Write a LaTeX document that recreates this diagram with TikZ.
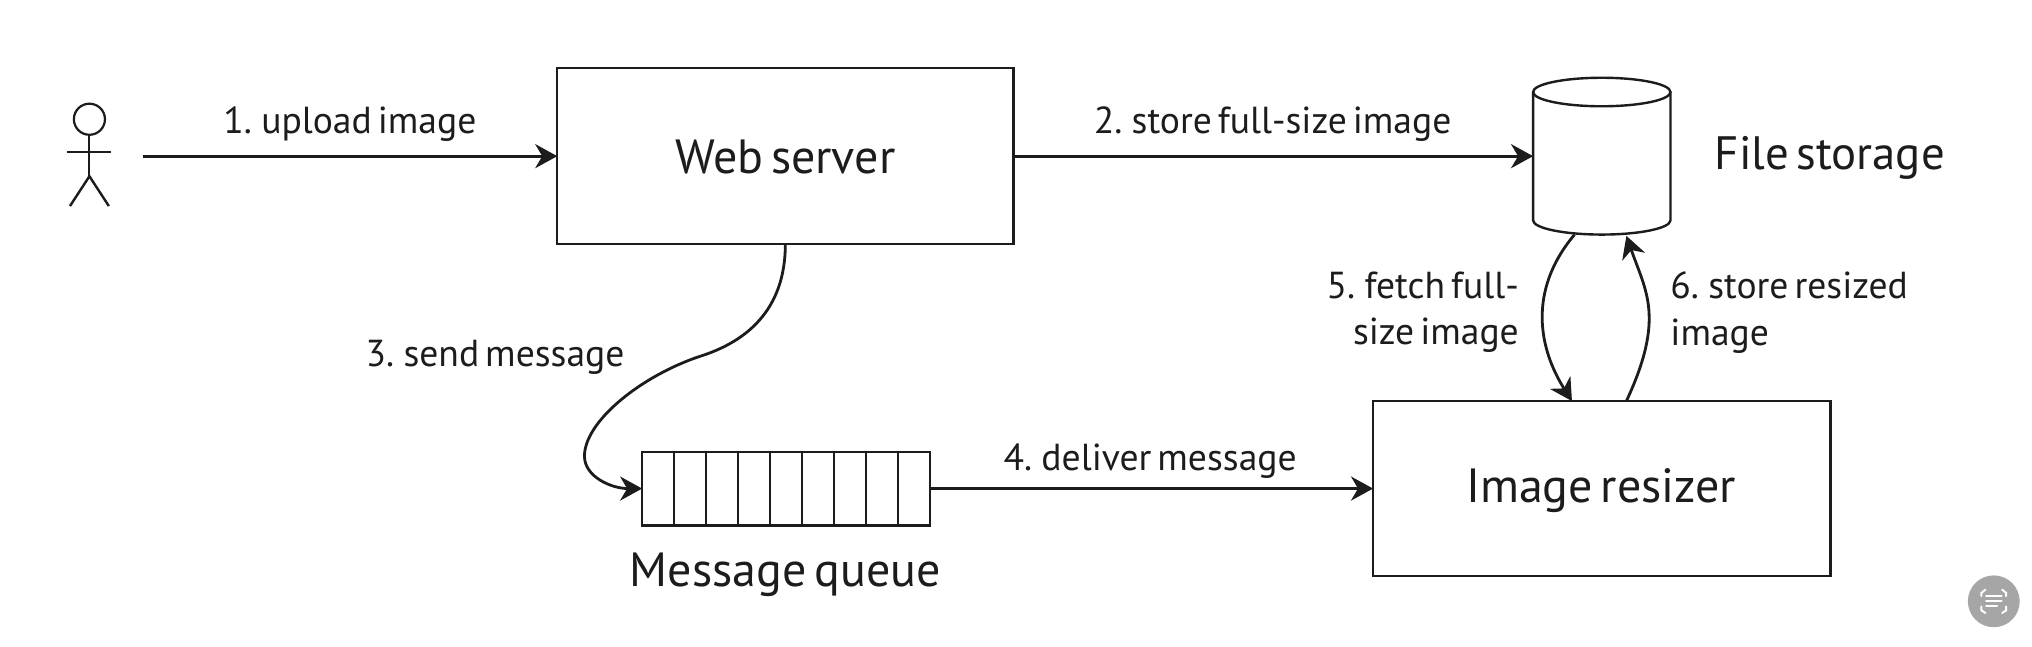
\documentclass[tikz,border=0pt]{standalone}
\usepackage{fontspec}
\setmainfont[WordSpace=0.6]{PT Sans}
\usetikzlibrary{arrows.meta}
\definecolor{ink}{HTML}{1C1C1C}
\tikzset{
  x=0.648pt,y=-0.648pt,
  every node/.style={text=ink,inner sep=0pt,outer sep=0pt},
  box/.style={draw=ink,line width=1.1pt,anchor=north west},
  big/.style={font=\fontsize{24}{28}\selectfont},
  small/.style={font=\fontsize{18.8}{23.3}\selectfont},
  flow/.style={draw=ink,line width=1.4pt,-{Stealth[length=11pt,width=12pt,inset=3.5pt]}},
  thin part/.style={draw=ink,line width=1pt},
  badge line/.style={draw=white,line width=1pt,line cap=round}
}
\begin{document}
\begin{tikzpicture}
\useasboundingbox (0,0) rectangle (1568,498.5);
\fill[white] (0,0) rectangle (1568,498.5);

% actor
\draw[thin part,line width=1.1pt] (69,92) circle (12);
\draw[thin part] (69,104) -- (69,136) (52,117.5) -- (86,117.5);
\draw[thin part,line width=1.2pt] (54,159) -- (69,136) -- (84,159);
\coordinate (userout) at (110,120.5);

% boxes
\node[box,minimum width=352*0.648pt,minimum height=136*0.648pt] (web) at (430,52.5) {};
\node[big] (webtext) at (606,121) {Web server};
\node[box,minimum width=353*0.648pt,minimum height=135*0.648pt] (resizer) at (1059.5,309.5) {};
\node[big] (resizertext) at (1235.5,378.5) {Image resizer};

% queue
\node[box,minimum width=222*0.648pt,minimum height=57*0.648pt] (queue) at (495.5,348.5) {};
\foreach \k in {1,...,8}{
  \draw[thin part] (495.5+\k*24.67,348.5) -- (495.5+\k*24.67,405.5);
}
\node[big] (queuetext) at (606,443.5) {Message queue};

% cylinder
\node[minimum width=106*0.648pt,minimum height=121*0.648pt,anchor=north west] (store) at (1183,60) {};
\draw[draw=ink,line width=1.2pt] (1183,71) -- (1183,170) arc[start angle=180,end angle=0,x radius=53,y radius=11] -- (1289,71);
\draw[draw=ink,line width=1.2pt] (1236,71) ellipse[x radius=53,y radius=11];
\node[big,font=\fontsize{23.4}{28}\selectfont] (storetext) at (1412,122) {File storage};

% connector ends
\coordinate (fetchstart) at (1215,181);
\coordinate (fetchend) at (1213,309.5);
\coordinate (putstart) at (1255,309.5);
\coordinate (putend) at (1255,182);

% connectors
\draw[flow] (userout) -- (web.west);
\draw[flow] (web.east) -- (store.west);
\draw[flow] (web.south) .. controls (606,240) and (575,264) .. (540,275)
  .. controls (495,290) and (451,325) .. (451,352)
  .. controls (451,368) and (472,377) .. (queue.west);
\draw[flow] (queue.east) -- (resizer.west);
\draw[flow] (fetchstart) .. controls (1178,225) and (1188,270) .. (fetchend);
\draw[flow] (putstart) .. controls (1285,245) and (1270,225) .. (putend);

% labels
\node[small] (l1) at (270,96) {1. upload image};
\node[small] (l2) at (982,96) {2. store full-size image};
\node[small] (l3) at (382,275.5) {3. send message};
\node[small] (l4) at (887.5,355.5) {4. deliver message};
\node[small,align=right,anchor=east] (l5) at (1172,241) {5. fetch full-\\size image};
\node[small,align=left,anchor=west] (l6) at (1289,241) {6. store resized\\image};

% badge
\fill[fill=black!35] (1538.5,464) circle (20);
\draw[badge line] (1529,460) -- (1529,457.5) -- (1532,455) (1545,455) -- (1548,457.5) -- (1548,460)
  (1548,468) -- (1548,471) -- (1545,473) (1532,473) -- (1529,471) -- (1529,468);
\draw[badge line] (1532.5,460) -- (1544.5,460) (1532.5,464) -- (1544.5,464) (1532.5,468) -- (1541,468);
\end{tikzpicture}
\end{document}
